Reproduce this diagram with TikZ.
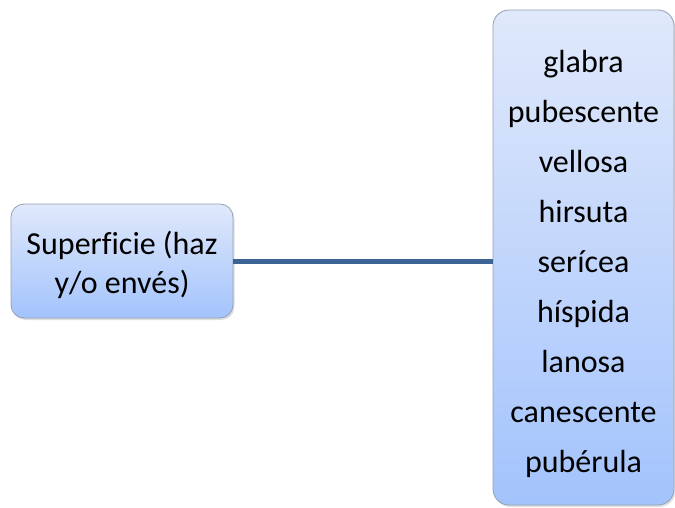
\documentclass[tikz,border=0pt]{standalone}
\usepackage{fontspec}
\setmainfont{Carlito}[Ligatures=NoCommon]
\usetikzlibrary{shadows}
\definecolor{boxtop}{RGB}{224,233,251}
\definecolor{boxbottom}{RGB}{163,195,252}
\definecolor{boxline}{RGB}{150,160,180}
\definecolor{linkblue}{RGB}{60,99,148}

\begin{document}
\begin{tikzpicture}[x=1pt,y=1pt,
    leafbox/.style={draw=boxline, line width=0.8pt, rounded corners=13pt,
      top color=boxtop, bottom color=boxbottom, inner sep=0pt,
      drop shadow={opacity=0.25, shadow xshift=1.5pt, shadow yshift=-2pt}},
    leaftext/.style={align=center, inner sep=0pt, font=\fontsize{32}{#1}\selectfont},
    link/.style={draw=linkblue, line width=5pt}]
    \useasboundingbox (0,0) rectangle (675,-508);

    % left box
    \node[leafbox, minimum width=222pt, minimum height=114pt] (superficie) at (122,-261) {};
    \node[leaftext=39] (superficietext) at ([yshift=-4pt]superficie.center)
      {Superficie (haz\\y/o envés)};

    % right box
    \node[leafbox, rounded corners=16pt, minimum width=181pt, minimum height=495pt]
      (tipos) at (583.5,-257.5) {};
    \node[leaftext=50] (tipostext) at ([yshift=-6pt]tipos.center)
      {glabra\\pubescente\\vellosa\\hirsuta\\serícea\\híspida\\lanosa\\canescente\\pubérula};

    \draw[link] (superficie.east) -- (superficie.east -| tipos.west);
\end{tikzpicture}
\end{document}
